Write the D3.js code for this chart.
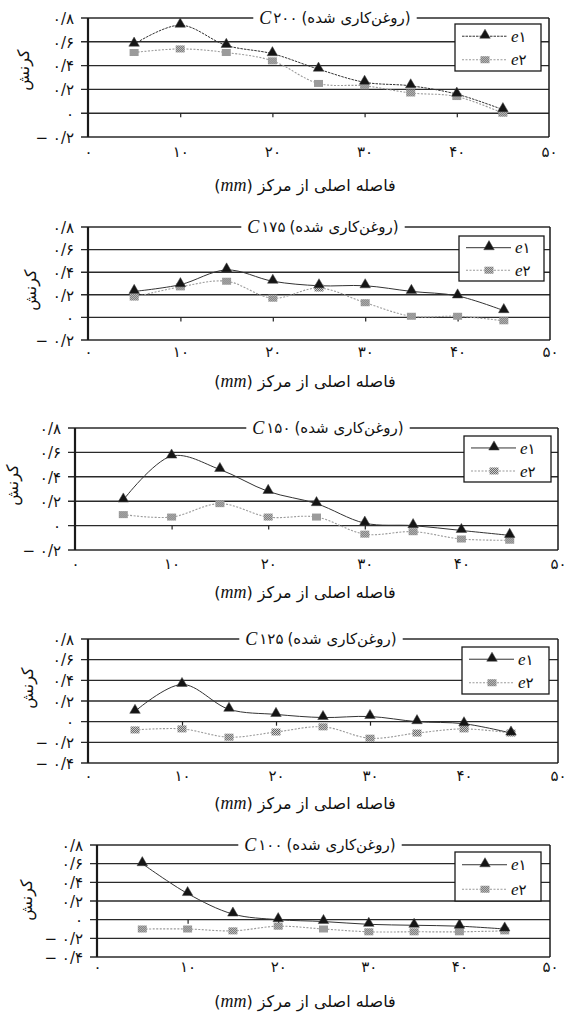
<!DOCTYPE html>
<meta charset="utf-8">
<style>
body { margin: 0; background: #fff; }
svg text { font-family: "DejaVu Sans", sans-serif; fill: #111; }
.math { font-family: "Liberation Serif", "DejaVu Serif", serif; font-style: italic; }
.grid line { stroke: #2a2a2a; stroke-width: 1.4; }
.frame { stroke: #1a1a1a; fill: none; }
.e1 { fill: none; stroke: #333; stroke-width: 1; }
.e2 { fill: none; stroke: #9a9a9a; stroke-width: 1.1; stroke-dasharray: 2,1.5; }
</style>
<svg width="566" height="1014"></svg>
<script src="https://cdnjs.cloudflare.com/ajax/libs/d3/7.8.5/d3.min.js"></script>
<script>

// ---- data (strain vs. distance from centre) ----
var distances = [5, 10, 15, 20, 25, 30, 35, 40, 45];
var xTicks = [0, 10, 20, 30, 40, 50];
var panelNames = ["۲۰۰", "۱۷۵", "۱۵۰", "۱۲۵", "۱۰۰"];
var yDomains = [[-0.2, 0.8], [-0.2, 0.8], [-0.2, 0.8], [-0.4, 0.8], [-0.4, 0.8]];

var e1C200 = [0.58, 0.74, 0.57, 0.50, 0.37, 0.26, 0.23, 0.16, 0.03];
var e2C200 = [0.51, 0.54, 0.51, 0.44, 0.25, 0.23, 0.17, 0.14, 0.00];
var e1C175 = [0.23, 0.29, 0.42, 0.32, 0.28, 0.28, 0.23, 0.19, 0.06];
var e2C175 = [0.18, 0.27, 0.32, 0.17, 0.26, 0.13, 0.01, 0.01, -0.03];
var e1C150 = [0.21, 0.57, 0.46, 0.28, 0.18, 0.02, 0.00, -0.04, -0.08];
var e2C150 = [0.09, 0.07, 0.18, 0.07, 0.07, -0.07, -0.05, -0.11, -0.12];
var e1C125 = [0.10, 0.36, 0.12, 0.07, 0.04, 0.05, 0.00, -0.02, -0.11];
var e2C125 = [-0.08, -0.07, -0.15, -0.10, -0.05, -0.16, -0.11, -0.07, -0.11];
var e1C100 = [0.60, 0.28, 0.06, 0.00, -0.02, -0.05, -0.06, -0.07, -0.10];
var e2C100 = [-0.10, -0.10, -0.12, -0.07, -0.10, -0.13, -0.13, -0.13, -0.12];

var e1Series = [e1C200, e1C175, e1C150, e1C125, e1C100];
var e2Series = [e2C200, e2C175, e2C150, e2C125, e2C100];
var seriesDigits = ["۱", "۲"];

var titleText = "(روغن\u200Cکاری شده)";
var xTitleText = "فاصله اصلی از مرکز";
var yTitleText = "کرنش";

// ---- layout of the five stacked panels ----
var layout = [
  {x0: 88,  x1: 549, yTop: 18,  yBot: 137, tx: 335, labY: 152, axY: 185, ytX: 23, ytY: 70,  lg: [455, 24, 541, 71]},
  {x0: 88,  x1: 550, yTop: 227, yBot: 340, tx: 323, labY: 352, axY: 381, ytX: 30, ytY: 290, lg: [459, 236, 544, 281]},
  {x0: 75,  x1: 558, yTop: 428, yBot: 550, tx: 328, labY: 564, axY: 592, ytX: 12, ytY: 485, lg: [464, 436, 551, 482]},
  {x0: 88,  x1: 558, yTop: 639, yBot: 763, tx: 321, labY: 776, axY: 803, ytX: 27, ytY: 688, lg: [462, 647, 549, 694]},
  {x0: 97,  x1: 550, yTop: 845, yBot: 957, tx: 320, labY: 967, axY: 1001, ytX: 26, ytY: 900, lg: [455, 852, 541, 901]}
];

function fa(s) {
  return String(s).replace(/[0-9]/g, function(d) { return "۰۱۲۳۴۵۶۷۸۹"[+d]; });
}
function faDec(v) {
  if (Math.abs(v) < 1e-9) return "۰";
  var s = fa(Math.abs(v).toFixed(1)).replace(".", "/");
  return (v < 0 ? "− " : "") + s;
}

var svg = d3.select("svg");

var defs = svg.append("defs");
var hatch = defs.append("pattern").attr("id", "hatch")
    .attr("width", 2).attr("height", 2).attr("patternUnits", "userSpaceOnUse");
hatch.append("rect").attr("width", 2).attr("height", 2).attr("fill", "#d0d0d0");
hatch.append("rect").attr("width", 1).attr("height", 1).attr("fill", "#666");
hatch.append("rect").attr("x", 1).attr("y", 1).attr("width", 1).attr("height", 1).attr("fill", "#666");

var tri = d3.symbol().type(d3.symbolTriangle).size(48);

function drawE1Marker(sel) {
  sel.append("path").attr("d", tri).attr("fill", "#151515").attr("stroke", "#444").attr("stroke-width", 0.5);
}
function drawE2Marker(sel) {
  sel.append("rect").attr("x", -4.5).attr("y", -3.5).attr("width", 9).attr("height", 7)
      .attr("fill", "url(#hatch)");
}

layout.forEach(function(L, i) {
  var g = svg.append("g");
  var x = d3.scaleLinear().domain([0, 50]).range([L.x0, L.x1]);
  var y = d3.scaleLinear().domain(yDomains[i]).range([L.yBot, L.yTop]);
  var yt = y.ticks(6);

  // gridlines (top one doubles as frame top, bottom one as frame bottom)
  g.append("g").attr("class", "grid").selectAll("line")
    .data(yt).join("line")
      .attr("x1", L.x0 - 7).attr("x2", L.x1)
      .attr("y1", function(d) { return y(d); })
      .attr("y2", function(d) { return y(d); });

  g.append("line").attr("class", "frame").attr("stroke-width", 2.2)
      .attr("x1", L.x0).attr("x2", L.x0).attr("y1", L.yTop).attr("y2", L.yBot);
  g.append("line").attr("class", "frame").attr("stroke-width", 1.5)
      .attr("x1", L.x1).attr("x2", L.x1).attr("y1", L.yTop).attr("y2", L.yBot);

  // y axis labels
  var yAxis = d3.axisLeft(y).ticks(6).tickSize(0).tickPadding(14).tickFormat(faDec);
  g.append("g").attr("transform", "translate(" + L.x0 + ",0)").call(yAxis)
    .call(function(a) { a.select(".domain").remove(); })
    .selectAll("text").attr("font-size", 15).attr("font-family", "DejaVu Sans").attr("dy", "0.35em");

  // small ticks on the zero line
  var zAxis = d3.axisBottom(x).tickValues([10, 20, 30, 40]).tickSize(4).tickFormat("");
  g.append("g").attr("transform", "translate(0," + y(0) + ")").call(zAxis)
    .call(function(a) { a.select(".domain").remove(); })
    .selectAll("line").attr("stroke", "#222").attr("stroke-width", 1.2);

  // x labels below the frame
  var xAxis = d3.axisBottom(x).tickValues(xTicks).tickSize(0).tickFormat(fa);
  g.append("g").attr("transform", "translate(0," + L.labY + ")").call(xAxis)
    .call(function(a) { a.select(".domain").remove(); })
    .selectAll("text").attr("y", 0).attr("dy", "0.35em")
      .attr("font-size", 15).attr("font-family", "DejaVu Sans");

  // series
  var e1 = distances.map(function(d, k) { return [d, e1Series[i][k]]; });
  var e2 = distances.map(function(d, k) { return [d, e2Series[i][k]]; });
  var line = d3.line()
      .x(function(d) { return x(d[0]); })
      .y(function(d) { return y(d[1]); })
      .curve(d3.curveCatmullRom.alpha(0.5));

  g.append("path").datum(e2).attr("class", "e2").attr("d", line);
  g.append("path").datum(e1).attr("class", "e1").attr("d", line)
      .attr("stroke-dasharray", i === 0 ? "2.5,1" : null);

  g.append("g").selectAll("g").data(e2).join("g")
      .attr("transform", function(d) { return "translate(" + x(d[0]) + "," + y(d[1]) + ")"; })
      .call(drawE2Marker);
  g.append("g").selectAll("g").data(e1).join("g")
      .attr("transform", function(d) { return "translate(" + x(d[0]) + "," + (y(d[1]) - 1) + ")"; })
      .call(drawE1Marker);

  // title sitting on the top border
  var tg = g.append("g");
  var tC = tg.append("text").attr("class", "math").attr("font-size", 18).text("C");
  var tN = tg.append("text").attr("font-size", 15).text(panelNames[i]);
  var tP = tg.append("text").attr("font-size", 15).text(titleText);
  var wC = tC.node().getComputedTextLength(),
      wN = tN.node().getComputedTextLength(),
      wP = tP.node().getComputedTextLength();
  var total = wC + 2 + wN + 4 + wP;
  var tx = L.tx - total / 2;
  tg.insert("rect", "text").attr("x", tx - 6).attr("y", L.yTop - 6)
      .attr("width", total + 12).attr("height", 12).attr("fill", "#fff");
  tC.attr("x", tx).attr("y", L.yTop).attr("dy", "0.35em");
  tN.attr("x", tx + wC + 2).attr("y", L.yTop).attr("dy", "0.35em");
  tP.attr("x", tx + wC + 2 + wN + 4).attr("y", L.yTop).attr("dy", "0.35em");

  // legend
  var lg = L.lg, lh = lg[3] - lg[1];
  var leg = g.append("g");
  leg.append("rect").attr("x", lg[0]).attr("y", lg[1])
      .attr("width", lg[2] - lg[0]).attr("height", lh)
      .attr("fill", "#fff").attr("stroke", "#1a1a1a").attr("stroke-width", 1.3);
  [0, 1].forEach(function(s) {
    var ry = lg[1] + lh * (s === 0 ? 0.26 : 0.76);
    leg.append("line").attr("class", s === 0 ? "e1" : "e2")
        .attr("x1", lg[0] + 7).attr("x2", lg[0] + 52).attr("y1", ry).attr("y2", ry)
        .attr("stroke-dasharray", s === 0 && i === 0 ? "2.5,1" : null);
    var m = leg.append("g").attr("transform", "translate(" + (lg[0] + 30) + "," + (ry - (s === 0 ? 1 : 0)) + ")");
    if (s === 0) drawE1Marker(m); else drawE2Marker(m);
    var t = leg.append("text").attr("x", lg[0] + 56).attr("y", ry).attr("dy", "0.35em");
    t.append("tspan").attr("class", "math").attr("font-size", 17).text("e");
    t.append("tspan").attr("font-size", 15).text(seriesDigits[s]);
  });

  // x axis title: "(mm)" on the left, Persian words to its right
  var ag = g.append("g");
  var aM = ag.append("text").attr("font-size", 16).attr("y", L.axY).attr("dy", "0.35em");
  aM.append("tspan").text("(");
  aM.append("tspan").attr("class", "math").attr("font-size", 18).text("mm");
  aM.append("tspan").text(")");
  var aP = ag.append("text").attr("font-size", 16).attr("y", L.axY).attr("dy", "0.35em").text(xTitleText);
  var wM = aM.node().getComputedTextLength(), wA = aP.node().getComputedTextLength();
  var ax = 305 - (wM + 5 + wA) / 2;
  aM.attr("x", ax);
  aP.attr("x", ax + wM + 5);

  // y axis title
  g.append("text").attr("font-size", 16).attr("text-anchor", "middle").attr("dy", "0.35em")
      .attr("transform", "translate(" + L.ytX + "," + L.ytY + ") rotate(-90)")
      .text(yTitleText);
});

</script>
